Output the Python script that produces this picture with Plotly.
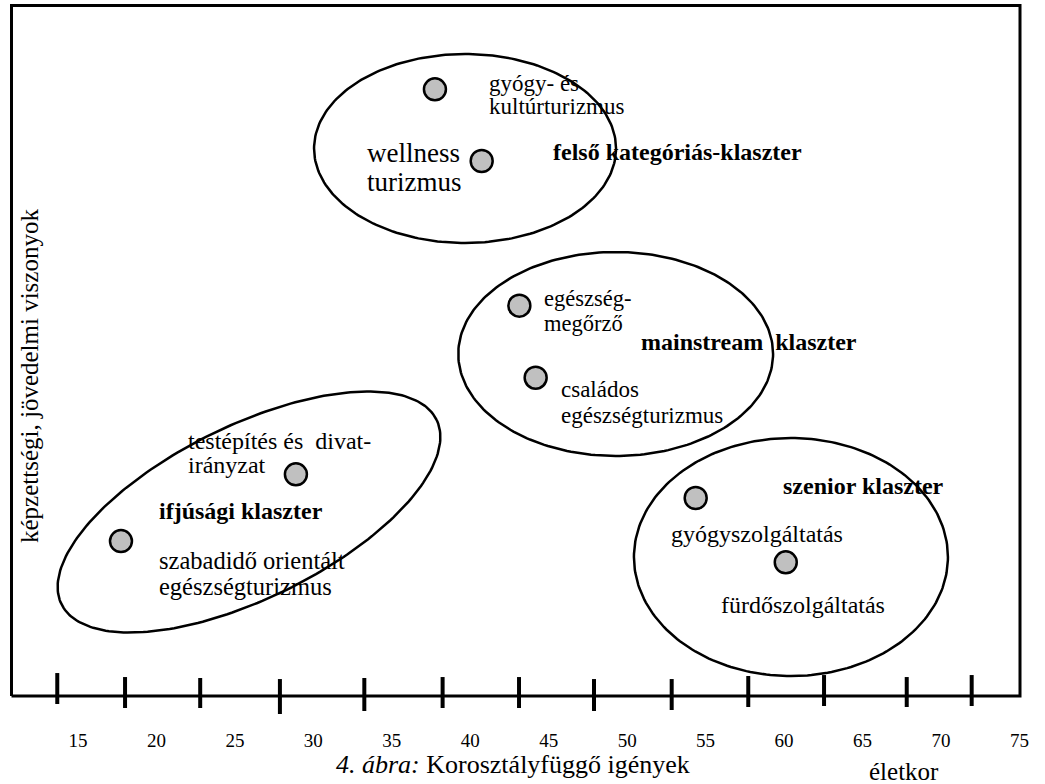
import numpy as np
import plotly.graph_objects as go

# ---------------- data ----------------
age_ticks = [15, 20, 25, 30, 35, 40, 45, 50, 55, 60, 65, 70, 75]
tick_labels = [str(v) for v in age_ticks]

# hand-drawn tick marks on the age axis (age position, upper end, lower end)
drawn_tick_age = [13.68, 18.00, 22.79, 27.87, 33.25, 38.24, 43.11, 47.89, 52.84, 57.72, 62.55, 67.82, 71.96]
drawn_tick_top = [3.33, 2.75, 2.61, 2.46, 2.61, 2.75, 2.75, 2.46, 2.46, 2.90, 3.04, 2.75, 3.04]
drawn_tick_bottom = [-1.16, -1.74, -1.74, -2.61, -2.17, -1.74, -1.74, -2.17, -2.03, -1.59, -1.45, -1.59, -1.45]

segments = ["gyógy- és kultúrturizmus", "wellness turizmus", "egészségmegőrző",
            "családos egészségturizmus", "testépítés és divatirányzat",
            "szabadidő orientált egészségturizmus", "gyógyszolgáltatás", "fürdőszolgáltatás"]
segment_age = [37.75, 40.73, 43.13, 44.17, 28.89, 17.74, 54.37, 60.11]
segment_level = [87.93, 77.54, 56.57, 46.13, 32.13, 22.46, 28.70, 19.38]

clusters = ["felső kategóriás-klaszter", "mainstream klaszter", "ifjúsági klaszter", "szenior klaszter"]
cluster_age = [39.67, 49.27, 25.90, 60.44]
cluster_level = [79.35, 49.57, 26.67, 20.14]

# ---------------- geometry / style ----------------
W, H = 1045, 784
M_B = 57
PX_PER_AGE = 15.69
PX_PER_LEVEL = 6.9
AGE_LEFT = 10.03
LEVEL_BOTTOM = -4.49
AGE_RIGHT = AGE_LEFT + W / PX_PER_AGE
LEVEL_TOP = LEVEL_BOTTOM + (H - M_B) / PX_PER_LEVEL
PLOT_H = H - M_B

# ellipse half-axes in pixels and tilt (degrees)
cluster_semi_a = [151, 157.4, 209, 157]
cluster_semi_b = [94.5, 102, 86.4, 119]
cluster_tilt = [0, 0, 26.2, 0]

FONT = "Liberation Serif"

fig = go.Figure()

# cluster ellipses
t = np.linspace(0, 2 * np.pi, 241)
for ca, cl, a, b, th in zip(cluster_age, cluster_level, cluster_semi_a, cluster_semi_b, cluster_tilt):
    r = np.radians(th)
    dx = a * np.cos(t) * np.cos(r) - b * np.sin(t) * np.sin(r)
    dy = a * np.cos(t) * np.sin(r) + b * np.sin(t) * np.cos(r)
    fig.add_trace(go.Scatter(x=ca + dx / PX_PER_AGE, y=cl + dy / PX_PER_LEVEL, mode="lines",
                             line=dict(color="black", width=2.5), hoverinfo="skip", showlegend=False))

# frame (axis box)
frame_left = AGE_LEFT + 11.5 / PX_PER_AGE
frame_right = AGE_LEFT + 1020 / PX_PER_AGE
frame_top = LEVEL_TOP - 5.5 / PX_PER_LEVEL
fig.add_trace(go.Scatter(x=[frame_left, frame_left, frame_right, frame_right, frame_left],
                         y=[0, frame_top, frame_top, 0, 0], mode="lines",
                         line=dict(color="black", width=3), hoverinfo="skip", showlegend=False))

# hand-drawn ticks
tx, ty = [], []
for a_, t0, t1 in zip(drawn_tick_age, drawn_tick_top, drawn_tick_bottom):
    tx += [a_, a_, None]
    ty += [t0, t1, None]
fig.add_trace(go.Scatter(x=tx, y=ty, mode="lines", line=dict(color="black", width=4),
                         hoverinfo="skip", showlegend=False))

# segment points
fig.add_trace(go.Scatter(x=segment_age, y=segment_level, mode="markers", text=segments,
                         marker=dict(size=22, color="#c0c0c0", line=dict(color="black", width=2.5)),
                         hoverinfo="text", showlegend=False))

# text labels: (text, age, level, size, bold)
labels = [
    ("gyógy- és", 41.07, 88.70, 23, False),
    ("kultúrturizmus", 41.07, 85.51, 23, False),
    ("wellness", 33.29, 78.70, 27, False),
    ("turizmus", 33.29, 74.49, 27, False),
    ("felső kategóriás-klaszter", 45.15, 78.84, 24, True),
    ("egészség-", 44.57, 57.68, 22.5, False),
    ("megőrző", 44.57, 54.06, 22.5, False),
    ("mainstream  klaszter", 50.76, 51.30, 24, True),
    ("családos", 45.66, 44.49, 23, False),
    ("egészségturizmus", 45.66, 40.72, 23, False),
    ("testépítés és  divat-", 21.88, 36.96, 24, False),
    ("irányzat", 21.88, 33.48, 24, False),
    ("ifjúsági klaszter", 20.03, 26.81, 24, True),
    ("szabadidő orientált", 20.03, 19.71, 24.5, False),
    ("egészségturizmus", 20.03, 15.94, 24.5, False),
    ("szenior klaszter", 59.81, 30.43, 24, True),
    ("gyógyszolgáltatás", 52.67, 23.48, 24, False),
    ("fürdőszolgáltatás", 55.85, 13.19, 24, False),
]
for txt, xa, ya, sz, bold in labels:
    fig.add_annotation(x=xa, y=ya, xref="x", yref="y", text=("<b>%s</b>" % txt) if bold else txt,
                       showarrow=False, xanchor="left", yanchor="middle",
                       font=dict(family=FONT, size=sz, color="black"))

# axis titles and caption
fig.add_annotation(x=30 / W, y=(PLOT_H - 376) / PLOT_H, xref="paper", yref="paper",
                   text="képzettségi, jövedelmi viszonyok", textangle=-90, showarrow=False,
                   xanchor="center", yanchor="middle",
                   font=dict(family=FONT, size=25, color="black"))
fig.add_annotation(x=513 / W, y=(PLOT_H - 764) / PLOT_H, xref="paper", yref="paper",
                   text="<i>4. ábra:</i> Korosztályfüggő igények", showarrow=False,
                   xanchor="center", yanchor="middle",
                   font=dict(family=FONT, size=26, color="black"))
fig.add_annotation(x=904 / W, y=(PLOT_H - 771) / PLOT_H, xref="paper", yref="paper",
                   text="életkor", showarrow=False, xanchor="center", yanchor="middle",
                   font=dict(family=FONT, size=25, color="black"))

fig.update_layout(
    width=W, height=H, autosize=False,
    margin=dict(l=0, r=0, t=0, b=M_B, pad=0),
    paper_bgcolor="white", plot_bgcolor="white",
    xaxis=dict(range=[AGE_LEFT, AGE_RIGHT], tickmode="array", tickvals=age_ticks, ticktext=tick_labels,
               showgrid=False, zeroline=False, showline=False, ticks="",
               tickfont=dict(family=FONT, size=19, color="black"), fixedrange=True),
    yaxis=dict(range=[LEVEL_BOTTOM, LEVEL_TOP], visible=False, showgrid=False, zeroline=False, fixedrange=True),
    showlegend=False,
)

fig.write_html("out.html", config={"displayModeBar": False},
               post_script="document.body.style.margin='0px';")
